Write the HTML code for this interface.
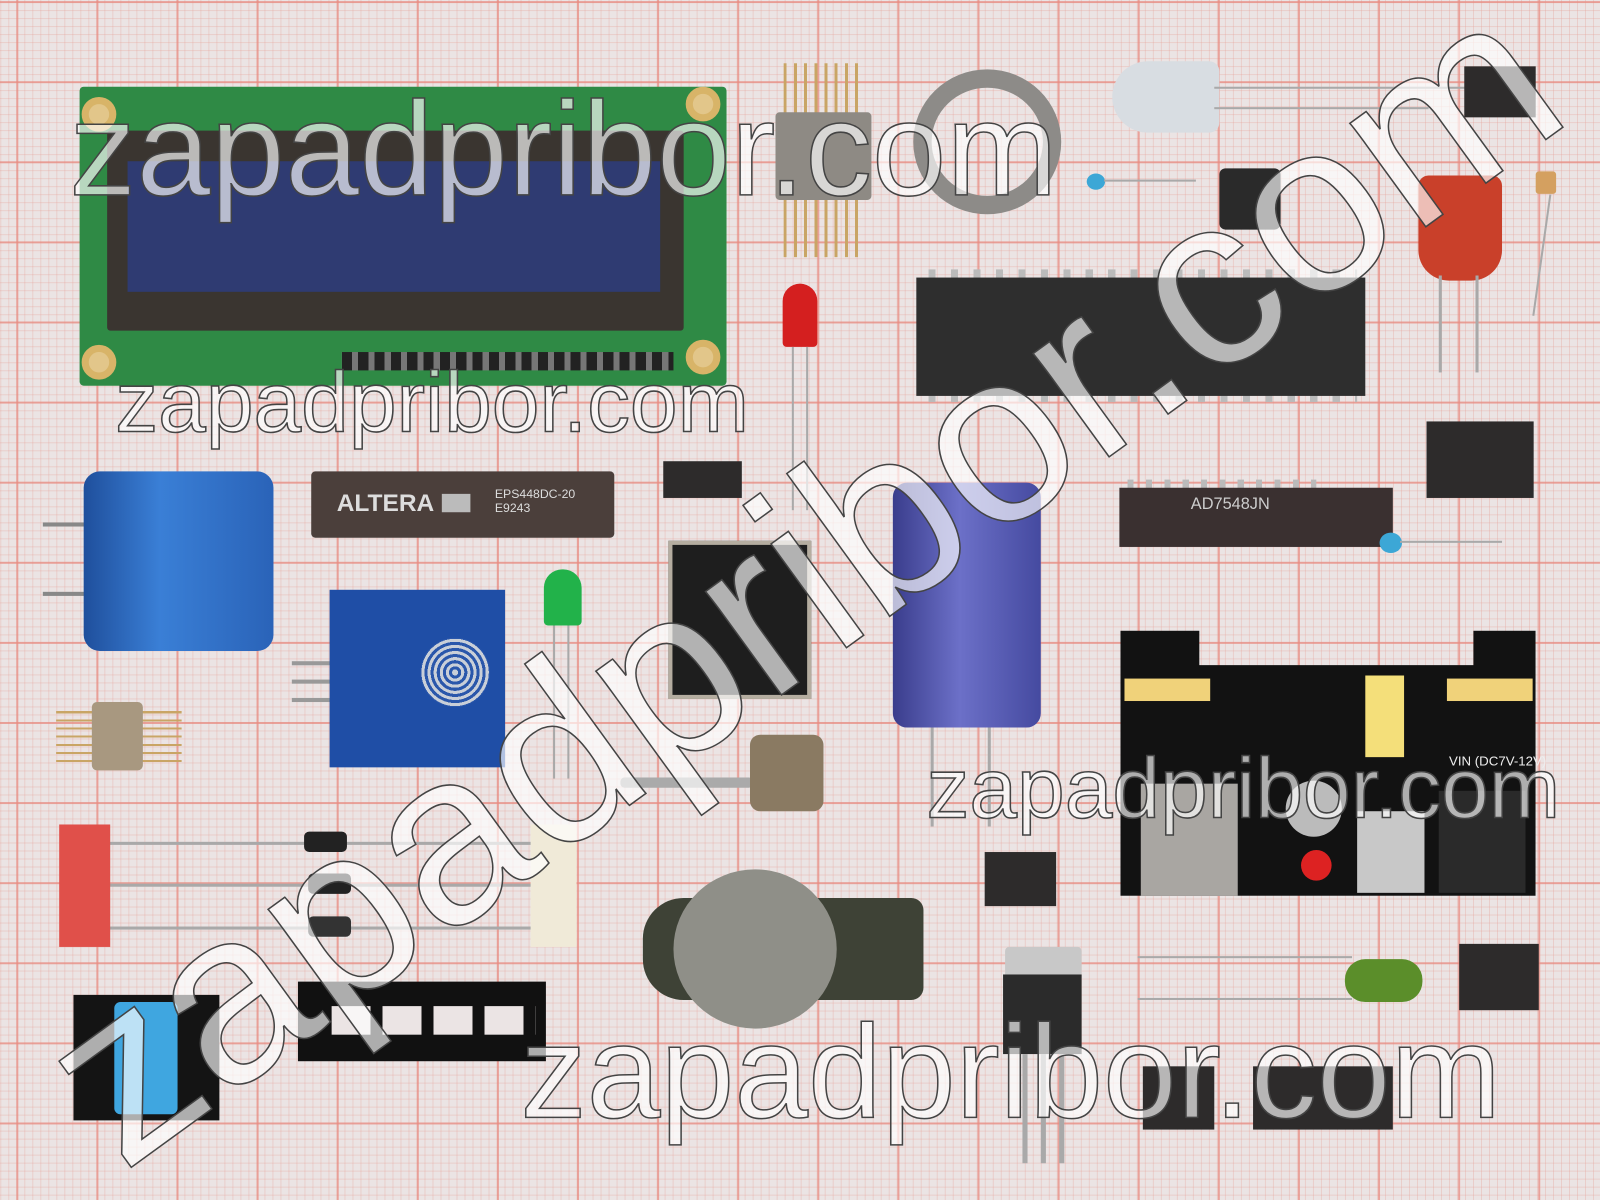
<!DOCTYPE html>
<html><head><meta charset="utf-8"><style>
html,body{margin:0;padding:0;width:1600px;height:1200px;overflow:hidden;background:#ebe4e4}
#o{position:absolute;left:0;top:0;width:1600px;height:1200px;overflow:hidden}
#w{position:absolute;left:0;top:0;width:1568px;height:1176px;overflow:hidden;transform:scale(1.0204);transform-origin:0 0;
background-color:#ebe4e4;
background-image:
linear-gradient(90deg,rgba(232,140,130,.75) 2px,transparent 2px),
linear-gradient(0deg,rgba(232,140,130,.75) 2px,transparent 2px),
linear-gradient(90deg,rgba(230,160,150,.35) 1px,transparent 1px),
linear-gradient(0deg,rgba(230,160,150,.35) 1px,transparent 1px);
background-size:78.5px 78.5px,78.5px 78.5px,7.85px 7.85px,7.85px 7.85px;
background-position:16px 3px,16px 3px,16px 3px,16px 3px;
font-family:"Liberation Sans",sans-serif}
.a{position:absolute;box-sizing:border-box}
.lead{position:absolute;background:#a9a9a9}
.wm{position:absolute;color:rgba(255,255,255,.66);-webkit-text-stroke:1.5px #444;font-family:"Liberation Sans",sans-serif;white-space:nowrap;line-height:1}
.chip{position:absolute;background:#2d2b2b;color:#ccc;font-size:11px}
.pin{position:absolute;background:#bbb}
</style></head><body><div id="o"><div id="w">

<div class="a" style="left:78px;top:85px;width:634px;height:293px;background:#2f8a45;border-radius:4px"></div>
<div class="a" style="left:105px;top:128px;width:565px;height:196px;background:#3a3530;border-radius:3px"></div>
<div class="a" style="left:125px;top:158px;width:522px;height:128px;background:#2f3b72"></div>
<div class="a" style="left:80px;top:95px;width:34px;height:34px;border-radius:50%;background:#e2c68a;border:7px solid #d8b468"></div>
<div class="a" style="left:672px;top:85px;width:34px;height:34px;border-radius:50%;background:#e2c68a;border:7px solid #d8b468"></div>
<div class="a" style="left:80px;top:338px;width:34px;height:34px;border-radius:50%;background:#e2c68a;border:7px solid #d8b468"></div>
<div class="a" style="left:672px;top:333px;width:34px;height:34px;border-radius:50%;background:#e2c68a;border:7px solid #d8b468"></div>
<div class="a" style="left:335px;top:345px;width:325px;height:18px;background:repeating-linear-gradient(90deg,#222 0 10px,#777 10px 16px)"></div>

<div class="a" style="left:768px;top:62px;width:80px;height:190px;background:repeating-linear-gradient(90deg,#c9a565 0 3px,transparent 3px 10px)"></div>
<div class="a" style="left:760px;top:110px;width:94px;height:86px;background:#8e8a84;border-radius:4px"></div>
<div class="a" style="left:895px;top:68px;width:145px;height:142px;border-radius:50%;border:18px solid #8d8b88"></div>
<div class="a" style="left:1090px;top:60px;width:105px;height:70px;border-radius:35px 10px 10px 35px;background:#d8dde2"></div>
<div class="lead" style="left:1190px;top:85px;width:250px;height:2px"></div>
<div class="lead" style="left:1190px;top:105px;width:210px;height:2px"></div>
<div class="chip" style="left:1435px;top:65px;width:70px;height:50px"></div>
<div class="a" style="left:1065px;top:170px;width:18px;height:16px;border-radius:50%;background:#3ca7d6"></div>
<div class="lead" style="left:1082px;top:176px;width:90px;height:2px"></div>
<div class="a" style="left:1195px;top:165px;width:60px;height:60px;background:#2a2a2a;border-radius:6px"></div>
<div class="a" style="left:1390px;top:172px;width:82px;height:103px;background:#c9402a;border-radius:10px 10px 30px 30px"></div>
<div class="lead" style="left:1410px;top:270px;width:3px;height:95px"></div>
<div class="lead" style="left:1446px;top:270px;width:3px;height:95px"></div>
<div class="a" style="left:1505px;top:168px;width:20px;height:22px;background:#d4a060;border-radius:3px"></div>
<div class="lead" style="left:1510px;top:190px;width:2px;height:120px;transform:rotate(8deg)"></div>
<div class="pin" style="left:910px;top:264px;width:420px;height:130px;background:repeating-linear-gradient(90deg,#bbb 0 7px,transparent 7px 22px)"></div>
<div class="chip" style="left:898px;top:272px;width:440px;height:116px;background:#2e2e2e"></div>
<div class="a" style="left:767px;top:278px;width:34px;height:62px;background:#d41f1f;border-radius:17px 17px 4px 4px"></div>
<div class="lead" style="left:776px;top:340px;width:2px;height:160px"></div>
<div class="lead" style="left:790px;top:340px;width:2px;height:160px"></div>
<div class="lead" style="left:42px;top:512px;width:45px;height:4px;background:#888"></div>
<div class="lead" style="left:42px;top:580px;width:45px;height:4px;background:#888"></div>
<div class="a" style="left:82px;top:462px;width:186px;height:176px;background:linear-gradient(90deg,#1f4f9c,#3a7fd6 40%,#2a63b8);border-radius:16px"></div>
<div class="a" style="left:305px;top:462px;width:297px;height:65px;background:#4b3f3b;border-radius:4px;color:#ddd"><span style="position:absolute;left:25px;top:18px;font-size:24px;font-weight:bold">ALTERA</span><span style="position:absolute;left:128px;top:22px;width:28px;height:18px;background:#bbb"></span><span style="position:absolute;left:180px;top:15px;font-size:12px">EPS448DC-20<br>E9243</span></div>
<div class="chip" style="left:650px;top:452px;width:77px;height:36px"></div>
<div class="a" style="left:655px;top:530px;width:140px;height:155px;background:#1e1e1e;border:4px solid #b5ada0"></div>
<div class="lead" style="left:912px;top:700px;width:3px;height:110px"></div>
<div class="lead" style="left:968px;top:700px;width:3px;height:110px"></div>
<div class="a" style="left:875px;top:473px;width:145px;height:240px;background:linear-gradient(90deg,#3a3d8c,#6c70c8 45%,#454aa0);border-radius:14px"></div>
<div class="pin" style="left:1105px;top:470px;width:185px;height:66px;background:repeating-linear-gradient(90deg,#bbb 0 6px,transparent 6px 18px)"></div>
<div class="chip" style="left:1097px;top:478px;width:198px;height:50px;background:#3a3030;font-size:16px;padding:8px 0 0 70px">AD7548JN</div>
<div class="chip" style="left:1398px;top:413px;width:105px;height:75px"></div>
<div class="a" style="left:1352px;top:522px;width:22px;height:20px;border-radius:50%;background:#3ca7d6"></div>
<div class="lead" style="left:1372px;top:530px;width:100px;height:2px"></div>
<div class="lead" style="left:286px;top:648px;width:40px;height:4px;background:#999"></div>
<div class="lead" style="left:286px;top:666px;width:40px;height:4px;background:#999"></div>
<div class="lead" style="left:286px;top:684px;width:40px;height:4px;background:#999"></div>
<div class="a" style="left:323px;top:578px;width:172px;height:174px;background:#1f4ea6"></div>
<div class="a" style="left:412px;top:625px;width:68px;height:68px;border-radius:50%;background:repeating-radial-gradient(circle,#c9cfd8 0 3px,#2a57ab 3px 6px)"></div>
<div class="a" style="left:533px;top:558px;width:37px;height:55px;background:#22b24a;border-radius:18px 18px 4px 4px"></div>
<div class="lead" style="left:542px;top:613px;width:2px;height:150px"></div>
<div class="lead" style="left:556px;top:613px;width:2px;height:150px"></div>
<div class="a" style="left:55px;top:695px;width:123px;height:52px;background:repeating-linear-gradient(0deg,#c9a565 0 2px,transparent 2px 8px)"></div>
<div class="a" style="left:90px;top:688px;width:50px;height:67px;background:#a89880;border-radius:5px"></div>
<div class="lead" style="left:608px;top:762px;width:130px;height:10px;background:#aaa;border-radius:4px"></div>
<div class="a" style="left:735px;top:720px;width:72px;height:75px;background:#8a7a62;border-radius:10px"></div>
<div class="a" style="left:1098px;top:618px;width:407px;height:260px;background:#121212;clip-path:polygon(0 0,19% 0,19% 13%,85% 13%,85% 0,100% 0,100% 100%,0 100%)"></div>
<div class="a" style="left:1102px;top:665px;width:84px;height:22px;background:#f0d27a"></div>
<div class="a" style="left:1418px;top:665px;width:84px;height:22px;background:#f0d27a"></div>
<div class="a" style="left:1338px;top:662px;width:38px;height:80px;background:#f4df7a"></div>
<div class="a" style="left:1118px;top:768px;width:95px;height:110px;background:#a9a6a2"></div>
<div class="a" style="left:1330px;top:795px;width:66px;height:80px;background:#c8c8c8"></div>
<div class="a" style="left:1275px;top:833px;width:30px;height:30px;border-radius:50%;background:#d22"></div>
<div class="a" style="left:1260px;top:765px;width:55px;height:55px;border-radius:50%;background:#bbb"></div>
<div class="a" style="left:1410px;top:775px;width:85px;height:100px;background:#2a2a2a"></div>
<div class="a" style="left:1420px;top:738px;color:#eee;font-size:13px">VIN (DC7V-12V)</div>
<div class="lead" style="left:95px;top:825px;width:430px;height:3px"></div>
<div class="lead" style="left:95px;top:866px;width:430px;height:3px"></div>
<div class="lead" style="left:95px;top:908px;width:430px;height:3px"></div>
<div class="a" style="left:298px;top:815px;width:42px;height:20px;background:#222;border-radius:5px"></div>
<div class="a" style="left:302px;top:856px;width:42px;height:20px;background:#222;border-radius:5px"></div>
<div class="a" style="left:302px;top:898px;width:42px;height:20px;background:#333;border-radius:5px"></div>
<div class="a" style="left:58px;top:808px;width:50px;height:120px;background:#e0504a"></div>
<div class="a" style="left:520px;top:808px;width:45px;height:120px;background:#f0ead8"></div>
<div class="chip" style="left:965px;top:835px;width:70px;height:53px"></div>
<div class="a" style="left:630px;top:880px;width:275px;height:100px;background:#3e4236;border-radius:40px 12px 12px 40px"></div>
<div class="a" style="left:660px;top:852px;width:160px;height:156px;border-radius:50%;background:#8f8f88"></div>
<div class="a" style="left:985px;top:928px;width:75px;height:30px;background:#c8c8c8;border-radius:4px 4px 0 0"></div>
<div class="chip" style="left:983px;top:955px;width:77px;height:78px;background:#2b2b2b"></div>
<div class="lead" style="left:1002px;top:1033px;width:5px;height:107px"></div>
<div class="lead" style="left:1020px;top:1033px;width:5px;height:107px"></div>
<div class="lead" style="left:1038px;top:1033px;width:5px;height:107px"></div>
<div class="lead" style="left:1115px;top:937px;width:210px;height:2px"></div>
<div class="lead" style="left:1115px;top:978px;width:210px;height:2px"></div>
<div class="a" style="left:1318px;top:940px;width:76px;height:42px;background:#5b8e2a;border-radius:20px"></div>
<div class="chip" style="left:1430px;top:925px;width:78px;height:65px"></div>
<div class="a" style="left:72px;top:975px;width:143px;height:123px;background:#141414"></div>
<div class="a" style="left:112px;top:982px;width:62px;height:110px;background:#3fa6e0;border-radius:6px"></div>
<div class="a" style="left:292px;top:962px;width:243px;height:78px;background:#111"></div>
<div class="a" style="left:325px;top:986px;width:200px;height:28px;background:repeating-linear-gradient(90deg,#ebe4e4 0 38px,#111 38px 50px)"></div>
<div class="chip" style="left:1120px;top:1045px;width:70px;height:62px"></div>
<div class="chip" style="left:1228px;top:1045px;width:137px;height:62px"></div>

<div class="wm" style="left:68px;top:80px;font-size:131px">zapadpribor.com</div>
<div class="wm" style="left:113px;top:352px;font-size:84px">zapadpribor.com</div>
<div class="wm" style="left:908px;top:730px;font-size:84px">zapadpribor.com</div>
<div class="wm" style="left:510px;top:985px;font-size:130px">zapadpribor.com</div>
<div class="wm" style="left:-215px;top:448px;width:2000px;text-align:center;font-size:238px;transform:rotate(-36deg);transform-origin:50% 50%">zapadpribor.com</div>
</div></div></body></html>
